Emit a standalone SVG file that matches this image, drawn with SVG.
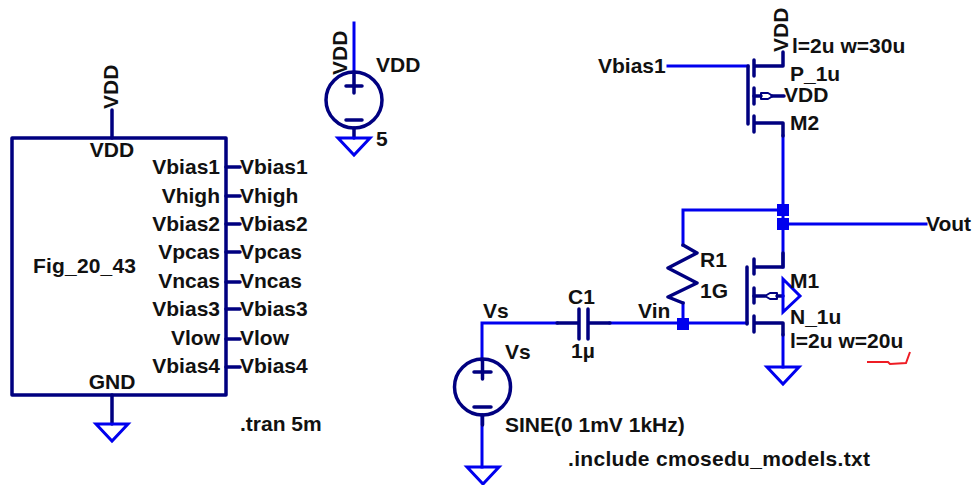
<svg xmlns="http://www.w3.org/2000/svg" width="977" height="485" viewBox="0 0 977 485">
<style>
text{font-family:"Liberation Sans",Arial,sans-serif;font-size:21px;font-weight:bold;fill:#111}
.w{fill:none;stroke:#0000ee;stroke-width:3;stroke-linecap:square;stroke-linejoin:miter}
.d{fill:none;stroke:#000080;stroke-width:3.5;stroke-linecap:round;stroke-linejoin:round}
.b{fill:none;stroke:#000080;stroke-width:2;stroke-linejoin:round}
.g{fill:none;stroke:#0000ee;stroke-width:3;stroke-linejoin:miter}
.j{fill:#0000ee}
.e{text-anchor:end}.m{text-anchor:middle}
</style>
<rect width="977" height="485" fill="#fff"/>
<g id="connectors">
<path class="w" d="M354 23V72"/>
<path class="w" d="M668 66H748"/>
<path class="w" d="M783 136V267"/>
<path class="w" d="M783 224H926"/>
<path class="w" d="M783 210H683V245"/>
<path class="w" d="M683 303V323"/>
<path class="w" d="M482 360V323H557"/>
<path class="w" d="M610 323H747"/>
<path class="w" d="M783 335V367"/>
<path class="w" d="M482 415V467"/>
<rect class="j" x="777" y="204" width="12" height="12"/>
<rect class="j" x="777" y="218" width="12" height="12"/>
<rect class="j" x="677" y="318" width="12" height="12"/>
</g>
<g id="block">
<rect x="12" y="138" width="214" height="257" fill="none" stroke="#000080" stroke-width="3.5" stroke-linejoin="round"/>
<path class="d" d="M112 110V138M112 395V424M226 167H240M226 196H240M226 224H240M226 252H240M226 282H240M226 309H240M226 339H240M226 367H240"/>
<path class="g" d="M96 424H128L112 441Z"/>
<text class="m" x="112" y="157">VDD</text>
<text class="m" x="112" y="389">GND</text>
<text x="33" y="273" textLength="103">Fig_20_43</text>
<text class="e" x="220" y="174">Vbias1</text><text x="240" y="174">Vbias1</text>
<text class="e" x="220" y="203">Vhigh</text><text x="240" y="203">Vhigh</text>
<text class="e" x="220" y="231">Vbias2</text><text x="240" y="231">Vbias2</text>
<text class="e" x="220" y="259">Vpcas</text><text x="240" y="259">Vpcas</text>
<text class="e" x="220" y="288">Vncas</text><text x="240" y="288">Vncas</text>
<text class="e" x="220" y="316">Vbias3</text><text x="240" y="316">Vbias3</text>
<text class="e" x="220" y="345">Vlow</text><text x="240" y="345">Vlow</text>
<text class="e" x="220" y="373">Vbias4</text><text x="240" y="373">Vbias4</text>
<text transform="translate(118 109) rotate(-90)">VDD</text>
</g>
<g id="vdd-source">
<circle cx="354" cy="100" r="28" fill="none" stroke="#000080" stroke-width="3.5"/>
<path class="d" d="M354 72V93M346 86H362M346 120H362M354 128V138"/>
<path class="g" d="M338 138H370L354 155Z"/>
<text transform="translate(347 75) rotate(-90)">VDD</text>
<text x="376" y="72">VDD</text>
<text x="376" y="146">5</text>
</g>
<text id="tran" x="240" y="431">.tran 5m</text>
<g id="M2">
<path class="d" d="M748 66V124M754 60V76M754 88V104M754 116V132M754 66H783V52M754 123H783V136"/>
<path class="d" d="M754 96H761M772 96H784"/>
<path class="b" d="M761 93V99H768L773 96L768 93Z"/>
<text x="598" y="73">Vbias1</text>
<text transform="translate(788 52) rotate(-90)">VDD</text>
<text x="792" y="53">l=2u w=30u</text>
<text x="790" y="81">P_1u</text>
<text x="784" y="102">VDD</text>
<text x="790" y="130">M2</text>
</g>
<text id="vout" x="926" y="231">Vout</text>
<g id="M1">
<path class="d" d="M747 267V324M754 259V274M754 288V303M754 316V332M754 267H783V253M754 323H783V335"/>
<path class="d" d="M754 296H765M777 296H783"/>
<path class="b" d="M777 293V299H770L765 296L770 293Z"/>
<path class="g" d="M783 279V312L800 296Z"/>
<path class="g" d="M767 367H799L783 384Z"/>
<text x="790" y="288">M1</text>
<text x="790" y="324">N_1u</text>
<text x="790" y="348">l=2u w=20u</text>
</g>
<g id="R1">
<path class="d" d="M683 245L697 253L668 268L697 283L668 297L683 303"/>
<text x="700" y="267">R1</text>
<text x="700" y="298">1G</text>
</g>
<g id="C1">
<path class="d" d="M557 323H579M588 323H610M579 309V339M588 309V339"/>
<text x="568" y="304">C1</text>
<text x="571" y="358">1µ</text>
</g>
<g id="Vs-source">
<circle cx="482.500" cy="387" r="28" fill="none" stroke="#000080" stroke-width="3.500"/>
<path class="d" d="M482.500 360V379M474 372H491M474 407H491M482.500 415V425"/>
<path class="g" d="M467 467H499L483 484Z"/>
<text x="505" y="359">Vs</text>
<text x="505" y="432">SINE(0 1mV 1kHz)</text>
</g>
<text x="483" y="318">Vs</text>
<text x="638" y="318">Vin</text>
<text x="568" y="466" textLength="302">.include cmosedu_models.txt</text>
<path id="red-mark" d="M867 362L888 362L890 364L906 363L910 352" fill="none" stroke="#ee1c24" stroke-width="2"/>
</svg>
